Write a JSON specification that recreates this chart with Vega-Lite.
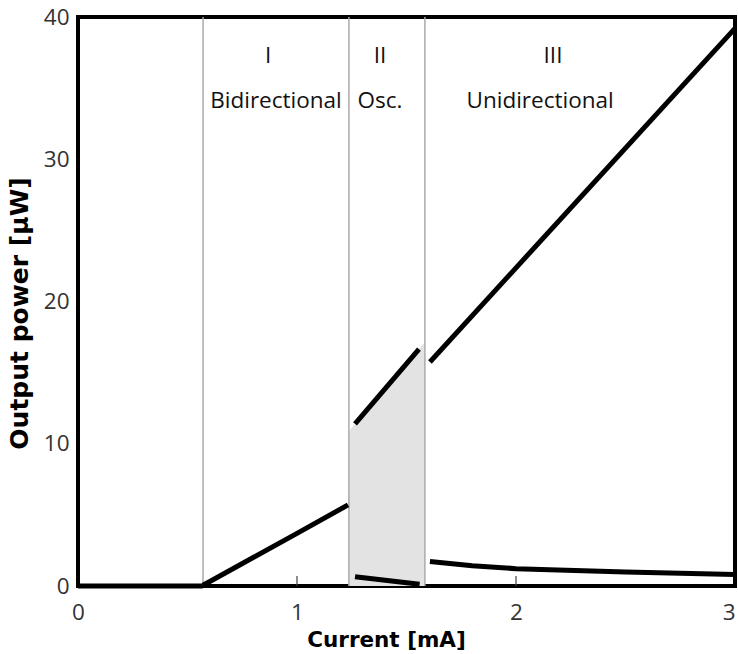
{
  "$schema": "https://vega.github.io/schema/vega-lite/v6.json",
  "autosize": "none",
  "width": 657,
  "height": 569,
  "padding": {"left": 78, "top": 17, "right": 3, "bottom": 68},
  "background": "white",
  "config": {
    "view": {"stroke": "black", "strokeWidth": 4},
    "axis": {"grid": false, "domain": false}
  },
  "datasets": {
    "shade": [
      {"current": 1.237, "power": 10.9},
      {"current": 1.584, "power": 17.15}
    ],
    "bounds": [
      {"current": 0.571},
      {"current": 1.237},
      {"current": 1.584}
    ],
    "ticks": [
      {"current": 1, "power": 0, "power2": 0.7},
      {"current": 2, "power": 0, "power2": 0.7}
    ],
    "curves": [
      {"seg": "zero", "current": 0.0, "power": 0.0},
      {"seg": "zero", "current": 0.57, "power": 0.0},
      {"seg": "I", "current": 0.57, "power": 0.05},
      {"seg": "I", "current": 0.6, "power": 0.3},
      {"seg": "I", "current": 0.8, "power": 2.0},
      {"seg": "I", "current": 1.0, "power": 3.7},
      {"seg": "I", "current": 1.233, "power": 5.7},
      {"seg": "IIa", "current": 1.265, "power": 11.39},
      {"seg": "IIa", "current": 1.557, "power": 16.66},
      {"seg": "IIb", "current": 1.265, "power": 0.65},
      {"seg": "IIb", "current": 1.56, "power": 0.12},
      {"seg": "IIIa", "current": 1.607, "power": 15.75},
      {"seg": "IIIa", "current": 3.0, "power": 39.2},
      {"seg": "IIIb", "current": 1.607, "power": 1.72},
      {"seg": "IIIb", "current": 1.8, "power": 1.42},
      {"seg": "IIIb", "current": 2.0, "power": 1.22},
      {"seg": "IIIb", "current": 2.5, "power": 0.98},
      {"seg": "IIIb", "current": 3.0, "power": 0.8}
    ],
    "labels": [
      {"current": 0.868, "power": 37.26, "text": "I"},
      {"current": 0.904, "power": 34.1, "text": "Bidirectional"},
      {"current": 1.379, "power": 37.26, "text": "II"},
      {"current": 1.379, "power": 34.1, "text": "Osc."},
      {"current": 2.169, "power": 37.26, "text": "III"},
      {"current": 2.11, "power": 34.1, "text": "Unidirectional"}
    ]
  },
  "layer": [
    {
      "data": {"name": "shade"},
      "mark": {"type": "area", "color": "#e3e3e3", "opacity": 1},
      "encoding": {
        "x": {
          "field": "current", "type": "quantitative",
          "scale": {"domain": [0, 3], "nice": false, "zero": true},
          "axis": {
            "values": [0, 1, 2, 3],
            "format": "d",
            "title": "Current [mA]",
            "titleFont": "DejaVu Sans", "titleFontSize": 21.5, "titleFontWeight": "bold", "titleColor": "black",
            "titleX": 308, "titleY": 60, "titleBaseline": "alphabetic", "titleAlign": "center", "titleAnchor": null,
            "labelFont": "Open Sans", "labelFontSize": 22.5, "labelColor": "#333",
            "labelAlign": {"expr": "datum.value == 3 ? 'right' : 'center'"},
            "ticks": false,
            "labelPadding": 15, "labelFlush": false
          }
        },
        "y": {
          "field": "power", "type": "quantitative",
          "scale": {"domain": [0, 40], "nice": false},
          "axis": {
            "values": [0, 10, 20, 30, 40],
            "title": "Output power  [µW]",
            "titleFont": "DejaVu Sans", "titleFontSize": 25, "titleFontWeight": "bold", "titleColor": "black",
            "titleX": -59, "titleY": 296, "titleBaseline": "middle", "titleAlign": "center", "titleAnchor": null,
            "labelFont": "Open Sans", "labelFontSize": 22.5, "labelColor": "#333",
            "ticks": false, "labelPadding": 9, "labelFlush": false
          }
        }
      }
    },
    {
      "data": {"name": "bounds"},
      "mark": {"type": "rule", "color": "#aaaaaa", "strokeWidth": 1.5},
      "encoding": {
        "x": {"field": "current", "type": "quantitative"}
      }
    },
    {
      "data": {"name": "ticks"},
      "mark": {"type": "rule", "color": "#444444", "strokeWidth": 1.2},
      "encoding": {
        "x": {"field": "current", "type": "quantitative"},
        "y": {"field": "power", "type": "quantitative"},
        "y2": {"field": "power2"}
      }
    },
    {
      "data": {"name": "curves"},
      "mark": {"type": "line", "color": "black", "strokeWidth": 5, "strokeCap": "butt"},
      "encoding": {
        "x": {"field": "current", "type": "quantitative"},
        "y": {"field": "power", "type": "quantitative"},
        "detail": {"field": "seg", "type": "nominal"}
      }
    },
    {
      "data": {"name": "labels"},
      "mark": {"type": "text", "font": "Open Sans", "fontSize": 22.5, "color": "#111", "baseline": "middle", "align": "center"},
      "encoding": {
        "x": {"field": "current", "type": "quantitative"},
        "y": {"field": "power", "type": "quantitative"},
        "text": {"field": "text"}
      }
    }
  ]
}
